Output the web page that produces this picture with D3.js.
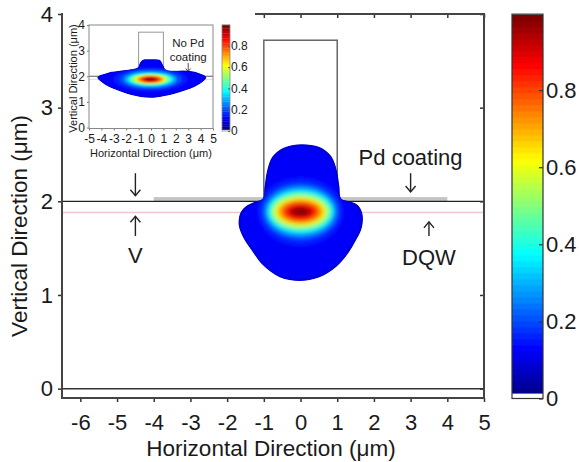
<!DOCTYPE html>
<html>
<head>
<meta charset="utf-8">
<script src="https://cdn.jsdelivr.net/npm/d3@7"></script>
<style>
  body { margin: 0; background: #fff; }
  text { font-family: "Liberation Sans", Arial, sans-serif; fill: #1a1a1a; }
</style>
</head>
<body>
<div id="chart-area"></div>
<script>
// ticks
const xTicks = [-6, -5, -4, -3, -2, -1, 0, 1, 2, 3, 4, 5]
const yTicks = [0, 1, 2, 3, 4]
const cbTicks = [0, 0.2, 0.4, 0.6, 0.8]
const insetXTicks = [-5, -4, -3, -2, -1, 0, 1, 2, 3, 4, 5]
const insetYTicks = [0, 1, 2, 3, 4]

// structure (um)
const ridgeX = [-1, 1]
const ridgeTop = 3.72
const coatingX = [-4, 4]
const coatingY = [2.0, 2.045]
const interfaceY = 2
const qwY = 1.88

// mode outline with Pd coating
const modeOutline = [
  [0.02, 2.61], [0.52, 2.58], [0.84, 2.48], [0.99, 2.33], [1.06, 2.16], [1.11, 2.03],
  [1.34, 2.0], [1.56, 1.96], [1.67, 1.89], [1.70, 1.80], [1.65, 1.69], [1.52, 1.59],
  [1.29, 1.44], [0.97, 1.30], [0.52, 1.19], [-0.03, 1.15], [-0.57, 1.19], [-1.03, 1.32],
  [-1.34, 1.48], [-1.57, 1.62], [-1.68, 1.73], [-1.68, 1.82], [-1.62, 1.89], [-1.48, 1.95],
  [-1.25, 1.995], [-1.03, 2.03], [-0.98, 2.16], [-0.91, 2.33], [-0.76, 2.48], [-0.48, 2.57]
]
const modeCenter = [0, 1.89]
const modeLevels = [0.15, 0.2, 0.3, 0.4, 0.5, 0.6, 0.7, 0.8, 0.9, 0.97, 1.0]
const modeRx = [1.15, 1.04, 0.95, 0.88, 0.8, 0.72, 0.63, 0.52, 0.4, 0.26, 0.14]
const modeRy = [0.36, 0.3, 0.26, 0.22, 0.19, 0.16, 0.135, 0.11, 0.08, 0.05, 0.03]

// inset: no Pd coating
const insetOutline = [
  [0, 2.66], [0.7, 2.64], [0.97, 2.44], [1.23, 2.25], [2.72, 2.22], [3.79, 2.14],
  [4.46, 1.96], [3.79, 1.66], [2.44, 1.40], [1.1, 1.23], [-0.1, 1.16], [-1.59, 1.27],
  [-2.93, 1.49], [-3.87, 1.73], [-4.33, 1.96], [-3.47, 2.14], [-2.4, 2.22], [-1.05, 2.35],
  [-0.91, 2.51], [-0.65, 2.64]
]
const insetCenter = [-0.05, 1.88]
const insetLevels = [0.15, 0.2, 0.3, 0.4, 0.5, 0.6, 0.7, 0.8, 0.9, 0.97, 1.0]
const insetRx = [3.0, 2.5, 2.1, 1.8, 1.55, 1.32, 1.1, 0.9, 0.65, 0.4, 0.22]
const insetRy = [0.45, 0.38, 0.31, 0.25, 0.21, 0.18, 0.155, 0.13, 0.1, 0.065, 0.04]

const font = '"Liberation Sans", Arial, sans-serif'
const fmtTick = d => String(d)
const fmtCb = d => d === 0 ? "0" : d3.format(".1f")(d)

function jet(t) {
  const c = v => Math.max(0, Math.min(1, v)) * 255
  return d3.rgb(c(1.5 - Math.abs(4 * t - 3)), c(1.5 - Math.abs(4 * t - 2)), c(1.5 - Math.abs(4 * t - 1))).toString()
}
// matlab style 64 entries, first one white
function cmap64(i) {
  if (i === 0) return "#ffffff"
  return jet(i / 63)
}

const svg = d3.select("#chart-area").append("svg").attr("width", 579).attr("height", 462)
const defs = svg.append("defs")

const x = d3.scaleLinear().domain([-6.5, 5]).range([62, 484])
const y = d3.scaleLinear().domain([-0.1, 4]).range([398, 14])

// structure lines
svg.append("line").attr("x1", x(-6.5)).attr("x2", x(5)).attr("y1", y(0)).attr("y2", y(0))
   .attr("stroke", "#333").attr("stroke-width", 1.5)
svg.append("rect").attr("x", x(coatingX[0])).attr("width", x(coatingX[1]) - x(coatingX[0]))
   .attr("y", y(coatingY[1])).attr("height", y(coatingY[0]) - y(coatingY[1])).attr("fill", "#c4c4c4")
svg.append("line").attr("x1", x(-6.5)).attr("x2", x(5)).attr("y1", y(interfaceY)).attr("y2", y(interfaceY))
   .attr("stroke", "#222").attr("stroke-width", 1.2)
svg.append("line").attr("x1", x(-6.5)).attr("x2", x(5)).attr("y1", y(qwY)).attr("y2", y(qwY))
   .attr("stroke", "#f4c6cc").attr("stroke-width", 1.5)
svg.append("rect").attr("x", x(ridgeX[0])).attr("width", x(ridgeX[1]) - x(ridgeX[0]))
   .attr("y", y(ridgeTop)).attr("height", y(interfaceY) - y(ridgeTop))
   .attr("fill", "none").attr("stroke", "#666").attr("stroke-width", 1.5)

// mode field drawn as blurred contour bands
function drawMode(g, id, sx, sy, outline, center, levels, rx, ry, blur) {
  const line = d3.line().x(d => sx(d[0])).y(d => sy(d[1])).curve(d3.curveCatmullRomClosed.alpha(0.5))
  defs.append("clipPath").attr("id", id + "clip").append("path").attr("d", line(outline))
  defs.append("filter").attr("id", id + "blur").attr("x", "-20%").attr("y", "-20%").attr("width", "140%").attr("height", "140%")
      .append("feGaussianBlur").attr("stdDeviation", blur)
  const m = g.append("g").attr("clip-path", `url(#${id}clip)`)
  m.append("path").attr("d", line(outline)).attr("fill", jet(0.02))
  const b = m.append("g").attr("filter", `url(#${id}blur)`)
  b.append("path").attr("d", line(outline)).attr("fill", jet(0.12))
  b.selectAll("ellipse").data(levels).enter().append("ellipse")
    .attr("cx", sx(center[0])).attr("cy", sy(center[1]))
    .attr("rx", (d, i) => sx(rx[i]) - sx(0))
    .attr("ry", (d, i) => sy(0) - sy(ry[i]))
    .attr("fill", d => jet(d))
}
drawMode(svg, "main", x, y, modeOutline, modeCenter, modeLevels, modeRx, modeRy, 2.2)

// axes
const axB = svg.append("g").attr("transform", "translate(0,398)")
  .call(d3.axisBottom(x).tickValues(xTicks).tickSize(4).tickPadding(12).tickFormat(fmtTick))
const axL = svg.append("g").attr("transform", "translate(62,0)")
  .call(d3.axisLeft(y).tickValues(yTicks).tickSize(4).tickPadding(5).tickFormat(fmtTick))
const axT = svg.append("g").attr("transform", "translate(0,14)")
  .call(d3.axisBottom(x).tickValues(xTicks).tickSize(4).tickFormat(""))
const axR = svg.append("g").attr("transform", "translate(484,0)")
  .call(d3.axisLeft(y).tickValues(yTicks).tickSize(4).tickFormat(""))
;[axB, axL, axT, axR].forEach(a => {
  a.select(".domain").remove()
  a.selectAll("line").attr("stroke", "#333").attr("stroke-width", 1.5)
  a.selectAll("text").attr("font-family", font).attr("font-size", 22).attr("fill", "#1a1a1a")
})
svg.append("rect").attr("x", 62).attr("y", 14).attr("width", 422).attr("height", 384)
   .attr("fill", "none").attr("stroke", "#444").attr("stroke-width", 2)

svg.append("text").attr("x", 271).attr("y", 456).attr("text-anchor", "middle")
   .attr("font-size", 22.5).text("Horizontal Direction (\u03bcm)")
svg.append("text").attr("transform", "translate(27,226) rotate(-90)").attr("text-anchor", "middle")
   .attr("font-size", 22.5).text("Vertical Direction (\u03bcm)")

// annotations
function arrow(g, px, yTail, yTip, w, h, sw) {
  const dir = yTip > yTail ? -1 : 1
  g.append("line").attr("x1", px).attr("x2", px).attr("y1", yTail).attr("y2", yTip)
   .attr("stroke", "#222").attr("stroke-width", sw)
  g.append("path").attr("d", `M${px - w},${yTip + dir * h}L${px},${yTip}L${px + w},${yTip + dir * h}`)
   .attr("fill", "none").attr("stroke", "#222").attr("stroke-width", sw)
}
arrow(svg, x(-4.5), y(2.3), y(2.06), 5, 6, 1.4)
arrow(svg, x(-4.5), y(1.63), y(1.84), 5, 6, 1.4)
arrow(svg, x(3), y(2.3), y(2.1), 5, 6, 1.4)
arrow(svg, x(3.5), y(1.63), y(1.78), 5, 6, 1.4)
svg.append("text").attr("x", x(-4.5)).attr("y", y(1.34)).attr("text-anchor", "middle").attr("font-size", 22).text("V")
svg.append("text").attr("x", x(3.5)).attr("y", y(1.32)).attr("text-anchor", "middle").attr("font-size", 22).text("DQW")
svg.append("text").attr("x", x(3)).attr("y", y(2.39)).attr("text-anchor", "middle").attr("font-size", 22).text("Pd coating")

// main colorbar
const cb = d3.scaleLinear().domain([0, 1]).range([398.5, 13])
const bins = d3.range(64)
const binH = (cb(0) - cb(0.997)) / 64
svg.append("g").selectAll("rect").data(bins).enter().append("rect")
   .attr("x", 512).attr("width", 31)
   .attr("y", d => cb(0) - (d + 1) * binH + 0.5).attr("height", binH + 0.6)
   .attr("fill", d => cmap64(d))
svg.append("rect").attr("x", 512).attr("y", cb(0.997)).attr("width", 31).attr("height", cb(0) - cb(0.997))
   .attr("fill", "none").attr("stroke", "#333").attr("stroke-width", 1.2)
const axC = svg.append("g").attr("transform", "translate(543,0)")
  .call(d3.axisRight(cb).tickValues(cbTicks).tickSize(-4).tickPadding(3).tickFormat(fmtCb))
axC.select(".domain").remove()
axC.selectAll("line").attr("stroke", "#333").attr("stroke-width", 1.2)
axC.selectAll("text").attr("font-family", font).attr("font-size", 22).attr("fill", "#1a1a1a")

// ---------- inset ----------
const inset = svg.append("g")
inset.append("rect").attr("x", 63).attr("y", 13).attr("width", 192).attr("height", 145).attr("fill", "#fff")
const ix = d3.scaleLinear().domain([-5, 5]).range([89, 213])
const iy = d3.scaleLinear().domain([0, 4]).range([127.5, 25])

inset.append("line").attr("x1", ix(-5)).attr("x2", ix(5)).attr("y1", iy(interfaceY)).attr("y2", iy(interfaceY))
   .attr("stroke", "#333").attr("stroke-width", 0.8)
inset.append("line").attr("x1", ix(-5)).attr("x2", ix(5)).attr("y1", iy(qwY)).attr("y2", iy(qwY))
   .attr("stroke", "#f4c6cc").attr("stroke-width", 0.8)
inset.append("rect").attr("x", ix(ridgeX[0])).attr("width", ix(ridgeX[1]) - ix(ridgeX[0]))
   .attr("y", iy(ridgeTop)).attr("height", iy(interfaceY) - iy(ridgeTop))
   .attr("fill", "none").attr("stroke", "#999").attr("stroke-width", 1)
drawMode(inset, "inset", ix, iy, insetOutline, insetCenter, insetLevels, insetRx, insetRy, 1.1)

const iaB = inset.append("g").attr("transform", "translate(0,128.5)")
  .call(d3.axisBottom(ix).tickValues(insetXTicks).tickSize(2).tickPadding(4).tickFormat(fmtTick))
const iaL = inset.append("g").attr("transform", "translate(89,0)")
  .call(d3.axisLeft(iy).tickValues(insetYTicks).tickSize(2).tickPadding(2).tickFormat(fmtTick))
;[iaB, iaL].forEach(a => {
  a.select(".domain").remove()
  a.selectAll("line").attr("stroke", "#777")
  a.selectAll("text").attr("font-family", font).attr("font-size", 12).attr("fill", "#1a1a1a")
})
inset.append("rect").attr("x", 89).attr("y", 25).attr("width", 124).attr("height", 103.5)
   .attr("fill", "none").attr("stroke", "#888").attr("stroke-width", 1)
inset.append("text").attr("x", 151).attr("y", 157).attr("text-anchor", "middle")
   .attr("font-size", 11).text("Horizontal Direction (\u03bcm)")
inset.append("text").attr("transform", "translate(77,78.5) rotate(-90)").attr("text-anchor", "middle")
   .attr("font-size", 11).text("Vertical Direction (\u03bcm)")
inset.append("text").attr("x", ix(3)).attr("y", 47).attr("text-anchor", "middle").attr("font-size", 11.5).text("No Pd")
inset.append("text").attr("x", ix(3)).attr("y", 60.5).attr("text-anchor", "middle").attr("font-size", 11.5).text("coating")
arrow(inset, ix(3), 63, 71.5, 2.5, 3, 0.8)

// inset colorbar
const icb = d3.scaleLinear().domain([0, 1]).range([131, 24.5])
const ibinH = (icb(0) - icb(0.997)) / 64
inset.append("g").selectAll("rect").data(bins).enter().append("rect")
   .attr("x", 222).attr("width", 8)
   .attr("y", d => icb(0) - (d + 1) * ibinH + 0.2).attr("height", ibinH + 0.3)
   .attr("fill", d => cmap64(d))
inset.append("rect").attr("x", 222).attr("y", icb(0.997)).attr("width", 8).attr("height", icb(0) - icb(0.997))
   .attr("fill", "none").attr("stroke", "#888").attr("stroke-width", 0.8)
const iaC = inset.append("g").attr("transform", "translate(230,0)")
  .call(d3.axisRight(icb).tickValues(cbTicks).tickSize(-2).tickPadding(1).tickFormat(fmtCb))
iaC.select(".domain").remove()
iaC.selectAll("line").attr("stroke", "#555")
iaC.selectAll("text").attr("font-family", font).attr("font-size", 12).attr("fill", "#1a1a1a")
</script>
</body>
</html>
